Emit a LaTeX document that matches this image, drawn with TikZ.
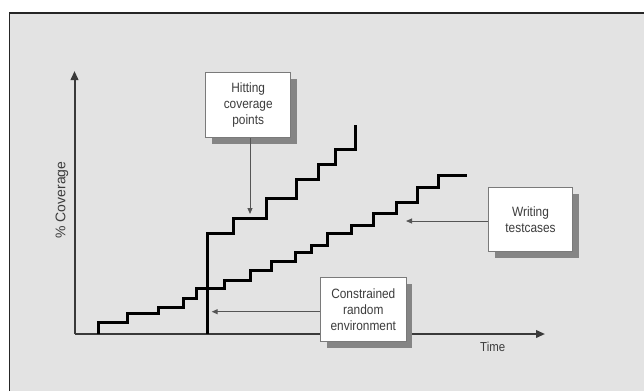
\documentclass[tikz,border=0pt]{standalone}
\usepackage{fontspec}
\setmainfont{Liberation Sans}
\newfontfamily\narrowfont{Liberation Sans}[FakeStretch=0.88]
\usetikzlibrary{shadows,arrows.meta}
\definecolor{bg}{HTML}{E3E3E3}
\definecolor{txt}{HTML}{3C3C3C}
\definecolor{axisc}{HTML}{3A3A3A}
\definecolor{arrc}{HTML}{555555}
\definecolor{shad}{HTML}{858585}
\definecolor{boxline}{HTML}{7A7A7A}
\tikzset{
  labelbox/.style={draw=boxline, line width=0.9pt, fill=white, rectangle, align=center,
    text=txt, font=\narrowfont\fontsize{13.5}{16}\selectfont, inner sep=0pt,
    drop shadow={shadow xshift=6.5pt, shadow yshift=-6.7pt, fill=shad, opacity=1}},
  axisline/.style={draw=axisc, line width=2pt, -{Triangle[length=9pt,width=7.5pt]}},
  stairs/.style={draw=black, line width=3pt, line join=miter},
  pointer/.style={draw=arrc, line width=1pt, -{Triangle[length=6pt,width=5pt]}},
  axislabel/.style={text=txt, inner sep=0pt}
}
\begin{document}
\begin{tikzpicture}[x=1pt,y=-1pt]
\useasboundingbox (0,0) rectangle (644,391);
\fill[white] (0,0) rectangle (644,391);
\fill[bg] (9.3,13) rectangle (644,391);
\draw[draw=black!85, line width=1.4pt] (9.3,391) -- (9.3,13) -- (644,13);

% axes
\coordinate (org) at (74.5,334);
\coordinate (ytop) at (74.5,71);
\coordinate (xend) at (545,334);
\draw[axisline] (org) -- (ytop);
\draw[axisline] (org) -- (xend);
\node[axislabel, font=\fontsize{14}{14}\selectfont, rotate=90] (ylab) at (62,200) {\% Coverage};
\node[axislabel, font=\narrowfont\fontsize{13}{13}\selectfont] (xlab) at (492.7,347) {Time};

% lower staircase (writing testcases)
\draw[stairs] (98,334) -- (98,322) -- (127,322) -- (127,313.5) -- (158,313.5) -- (158,307)
 -- (183.5,307) -- (183.5,298) -- (196.5,298) -- (196.5,288.5) -- (224,288.5) -- (224,280)
 -- (250.5,280) -- (250.5,270.5) -- (271,270.5) -- (271,261) -- (295.5,261) -- (295.5,252)
 -- (311,252) -- (311,245.5) -- (327,245.5) -- (327,233.5) -- (351,233.5) -- (351,225.5)
 -- (373.5,225.5) -- (373.5,213) -- (396.5,213) -- (396.5,202) -- (417,202) -- (417,187)
 -- (438,187) -- (438,175) -- (467,175);

% upper staircase (constrained random)
\draw[stairs] (207,334) -- (207,233.5) -- (233,233.5) -- (233,218) -- (266.5,218) -- (266.5,198)
 -- (296.5,198) -- (296.5,179) -- (318,179) -- (318,164) -- (335.5,164) -- (335.5,149.5)
 -- (355,149.5) -- (355,125);

% boxes
\node[labelbox, minimum width=85pt, minimum height=64.6pt] (hit) at (248.2,105)
  {Hitting\\coverage\\points};
\node[labelbox, minimum width=84.4pt, minimum height=64.4pt] (wr) at (530.5,219.5)
  {Writing\\testcases};
\node[labelbox, minimum width=85.3pt, minimum height=64.4pt] (cr) at (363.3,309.5)
  {Constrained\\random\\environment};

% pointers
\coordinate (hitTip) at (250,214);
\coordinate (wrTip) at (406,221);
\coordinate (crTip) at (211.7,311.7);
\draw[pointer] (hitTip |- hit.south) -- (hitTip);
\draw[pointer] (wr.west |- wrTip) -- (wrTip);
\draw[pointer] (cr.west |- crTip) -- (crTip);
\end{tikzpicture}
\end{document}
